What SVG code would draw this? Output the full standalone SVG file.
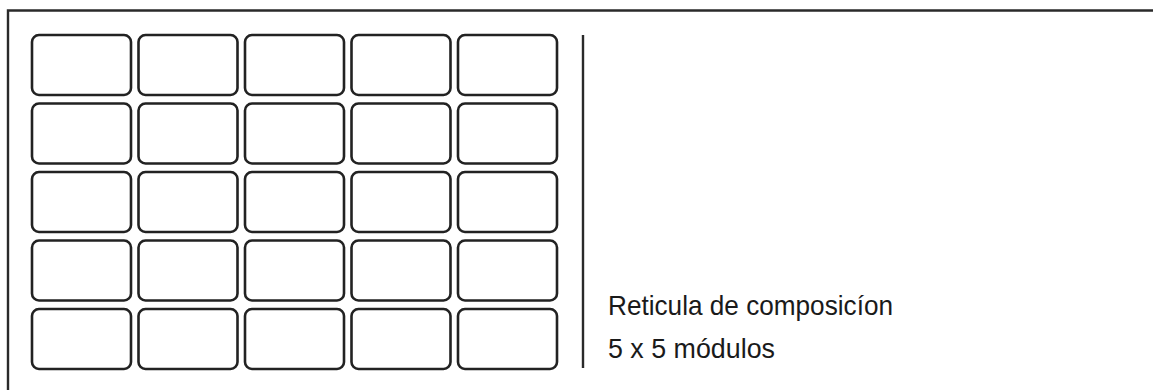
<svg xmlns="http://www.w3.org/2000/svg" width="1153" height="390" viewBox="0 0 1153 390">
<style>
.cell{fill:#fff;stroke:#222;stroke-width:2.6}
.frame{fill:none;stroke:#2a2a2a;stroke-width:2.4}
.lbl{font-family:"Liberation Sans","DejaVu Sans",sans-serif;font-size:28px;fill:#1a1a1a}
</style>
<rect x="0" y="0" width="1153" height="390" fill="#fff"/>
<g id="frame">
<path class="frame" d="M8,390 V10.5 H1153"/>
<line class="frame" x1="583" y1="35" x2="583" y2="368"/>
</g>
<g id="grid">
<g id="r1">
<rect class="cell" x="32" y="35" width="99" height="60" rx="7"/>
<rect class="cell" x="138.5" y="35" width="99" height="60" rx="7"/>
<rect class="cell" x="245" y="35" width="99" height="60" rx="7"/>
<rect class="cell" x="351.5" y="35" width="99" height="60" rx="7"/>
<rect class="cell" x="458" y="35" width="99" height="60" rx="7"/>
</g>
<g id="r2">
<rect class="cell" x="32" y="103.5" width="99" height="60" rx="7"/>
<rect class="cell" x="138.5" y="103.5" width="99" height="60" rx="7"/>
<rect class="cell" x="245" y="103.5" width="99" height="60" rx="7"/>
<rect class="cell" x="351.5" y="103.5" width="99" height="60" rx="7"/>
<rect class="cell" x="458" y="103.5" width="99" height="60" rx="7"/>
</g>
<g id="r3">
<rect class="cell" x="32" y="172" width="99" height="60" rx="7"/>
<rect class="cell" x="138.5" y="172" width="99" height="60" rx="7"/>
<rect class="cell" x="245" y="172" width="99" height="60" rx="7"/>
<rect class="cell" x="351.5" y="172" width="99" height="60" rx="7"/>
<rect class="cell" x="458" y="172" width="99" height="60" rx="7"/>
</g>
<g id="r4">
<rect class="cell" x="32" y="240.5" width="99" height="60" rx="7"/>
<rect class="cell" x="138.5" y="240.5" width="99" height="60" rx="7"/>
<rect class="cell" x="245" y="240.5" width="99" height="60" rx="7"/>
<rect class="cell" x="351.5" y="240.5" width="99" height="60" rx="7"/>
<rect class="cell" x="458" y="240.5" width="99" height="60" rx="7"/>
</g>
<g id="r5">
<rect class="cell" x="32" y="309" width="99" height="60" rx="7"/>
<rect class="cell" x="138.5" y="309" width="99" height="60" rx="7"/>
<rect class="cell" x="245" y="309" width="99" height="60" rx="7"/>
<rect class="cell" x="351.5" y="309" width="99" height="60" rx="7"/>
<rect class="cell" x="458" y="309" width="99" height="60" rx="7"/>
</g>
</g>
<g id="caption">
<text class="lbl" x="608" y="315" textLength="285" lengthAdjust="spacingAndGlyphs">Reticula de composicíon</text>
<text class="lbl" x="608" y="358" textLength="167" lengthAdjust="spacingAndGlyphs">5 x 5 módulos</text>
</g>
</svg>
